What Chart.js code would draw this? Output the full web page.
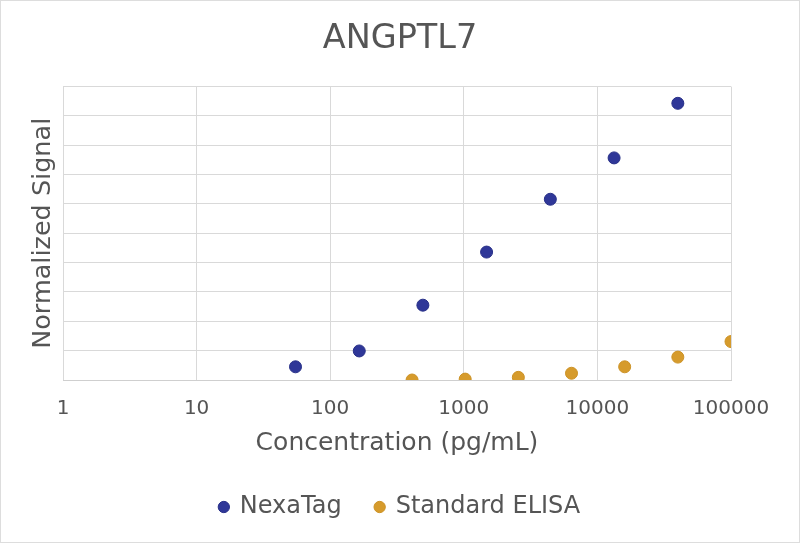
<!DOCTYPE html>
<html>
<head>
<meta charset="utf-8">
<script src="https://cdn.jsdelivr.net/npm/chart.js@4"></script>
<style>
  html, body { margin: 0; padding: 0; background: #fff; }
  #wrap { width: 800px; height: 543px; position: relative; }
  #chart { outline: 1px solid #dddddd; outline-offset: -1px; }
</style>
</head>
<body>
<div id="wrap"><canvas id="chart" width="800" height="543"></canvas></div>
<script>
// Concentrations (pg/mL) and normalized signal
const nexaConc = [55, 165, 494, 1481, 4444, 13333, 40000];
const nexaSignal = [0.45, 0.99, 2.55, 4.36, 6.16, 7.57, 9.43];
const elisaConc = [410, 1024, 2560, 6400, 16000, 40000, 100000];
const elisaSignal = [0.0, 0.03, 0.09, 0.23, 0.45, 0.78, 1.31];
const xTicks = [1, 10, 100, 1000, 10000, 100000];

const textColor = '#555555';
const gridColor = '#d9d9d9';
const fontFamily = '"DejaVu Sans", sans-serif';

const toPoints = (xs, ys) => xs.map((x, i) => ({ x: x, y: ys[i] }));

const canvas = document.querySelector('#chart');
new Chart(canvas, {
    type: 'scatter',
    data: {
        datasets: [
            {
                label: 'NexaTag',
                data: toPoints(nexaConc, nexaSignal),
                backgroundColor: '#2f3798',
                borderColor: '#283088',
                borderWidth: 1,
                pointRadius: 6,
                pointHoverRadius: 6
            },
            {
                label: 'Standard ELISA',
                data: toPoints(elisaConc, elisaSignal),
                backgroundColor: '#d69b2c',
                borderColor: '#cc9226',
                borderWidth: 1,
                pointRadius: 6,
                pointHoverRadius: 6
            }
        ]
    },
    options: {
        responsive: false,
        animation: false,
        devicePixelRatio: 1,
        layout: { padding: { left: 0, right: 0, top: 0, bottom: 14 } },
        plugins: {
            tooltip: { enabled: false },
            title: {
                display: true,
                text: 'ANGPTL7',
                color: textColor,
                font: { family: fontFamily, size: 33.5, weight: 'normal' },
                padding: { top: 18.7, bottom: 27.7 }
            },
            legend: {
                position: 'bottom',
                labels: {
                    usePointStyle: true,
                    pointStyle: 'circle',
                    boxWidth: 8,
                    boxHeight: 8,
                    padding: 34,
                    color: textColor,
                    font: { family: fontFamily, size: 24 }
                }
            }
        },
        scales: {
            x: {
                type: 'logarithmic',
                min: 1,
                max: 100000,
                afterBuildTicks: (scale) => {
                    scale.ticks = xTicks.map(v => ({ value: v, major: true }));
                },
                afterFit: (scale) => { scale.height = 81; },
                ticks: {
                    color: textColor,
                    font: { family: fontFamily, size: 20 },
                    padding: 17,
                    maxRotation: 0,
                    autoSkip: false,
                    callback: (value) => String(value)
                },
                grid: { color: gridColor, drawTicks: false },
                border: { color: '#cfcfcf' },
                title: {
                    display: true,
                    text: 'Concentration (pg/mL)',
                    color: textColor,
                    font: { family: fontFamily, size: 25 },
                    padding: { top: 0, bottom: 3 }
                }
            },
            y: {
                min: 0,
                max: 10,
                ticks: { display: false, stepSize: 1 },
                afterFit: (scale) => { scale.width = 63; },
                grid: { color: gridColor, drawTicks: false },
                border: { display: false },
                title: {
                    display: true,
                    text: 'Normalized Signal',
                    color: textColor,
                    font: { family: fontFamily, size: 25.5 },
                    padding: { top: 28, bottom: 0 }
                }
            },
            // empty right-hand box that keeps the white margin right of the plot
            yRight: {
                position: 'right',
                min: 0,
                max: 10,
                ticks: { display: false },
                grid: { display: false, drawTicks: false },
                border: { display: false },
                afterFit: (scale) => { scale.width = 69; }
            }
        }
    }
});
</script>
</body>
</html>
